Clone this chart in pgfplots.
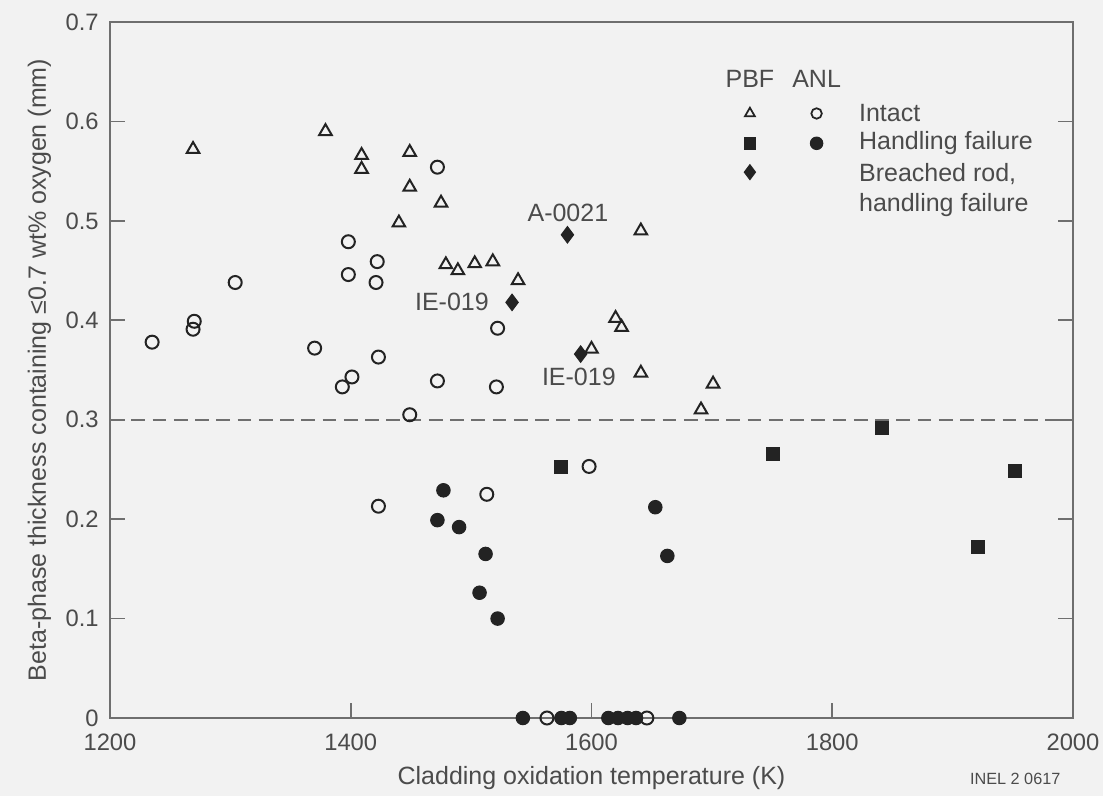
\documentclass[border=0pt]{standalone}
\usepackage{fontspec}
\setmainfont{Liberation Sans}
\usepackage{pgfplots}
\pgfplotsset{compat=1.18}
\definecolor{ink}{RGB}{75,75,75}
\definecolor{markk}{RGB}{35,35,35}

\begin{document}
\begin{tikzpicture}
\path[use as bounding box,fill=black!5] (-44pt,-31pt) rectangle (397.2pt,287.2pt);
\begin{axis}[scale only axis,width=385.2pt,height=278.4pt,at={(0,0)},anchor=south west,
  xmin=1200,xmax=2000,ymin=0,ymax=0.7,clip=false,
  xtick={1200,1400,...,2000},ytick={0,0.1,...,0.7},
  yticklabels={0,0.1,0.2,0.3,0.4,0.5,0.6,0.7},
  xticklabel style={/pgf/number format/1000 sep={},yshift=-3pt},
  yticklabel style={xshift=-1pt},
  /pgf/number format/assume math mode=true,
  tick label style={font=\fontsize{9.5}{11}\selectfont,text=ink},
  label style={font=\fontsize{10}{12}\selectfont,text=ink},
  axis line style={ink!80,line width=0.7pt},
  major tick length=6pt,tick style={ink!80,line width=0.7pt},
  tick align=inside,xtick pos=bottom,ytick pos=both,
  xlabel={Cladding oxidation temperature (K)},
  ylabel={Beta-phase thickness containing ≤0.7 wt\% oxygen (mm)},
  xlabel style={at={(axis description cs:0.5,0)},anchor=north,yshift=-16pt},
  ylabel style={at={(axis description cs:0,0.5)},anchor=south,yshift=20pt},
  ]
% dashed limit
\addplot[ink!80,line width=0.8pt,dash pattern=on 5.5pt off 3pt] coordinates {(1200,0.3)(2000,0.3)};
% PBF intact
\addplot[only marks,mark=triangle,mark size=2.9pt,markk,line width=0.8pt] coordinates {
 (1269,0.572)(1379,0.590)(1409,0.566)(1409,0.552)(1449,0.569)(1449,0.534)(1475,0.518)(1440,0.498)
 (1479,0.456)(1489,0.450)(1503,0.457)(1518,0.459)(1539,0.440)(1641,0.490)(1620,0.402)(1625,0.393)
 (1600,0.371)(1641,0.347)(1701,0.336)(1691,0.310)};
% ANL intact
\addplot[only marks,mark=o,mark size=2.6pt,markk,line width=0.8pt] coordinates {
 (1472,0.554)(1398,0.479)(1422,0.459)(1398,0.446)(1421,0.438)(1304,0.438)(1270,0.399)(1269,0.391)
 (1235,0.378)(1370,0.372)(1423,0.363)(1401,0.343)(1393,0.333)(1472,0.339)(1521,0.333)(1522,0.392)
 (1449,0.305)(1423,0.213)(1513,0.225)(1598,0.253)(1563,0)(1646,0)};
% ANL handling failure
\addplot[only marks,mark=*,mark size=2.7pt,markk] coordinates {
 (1477,0.229)(1472,0.199)(1490,0.192)(1512,0.165)(1507,0.126)(1522,0.100)(1653,0.212)(1663,0.163)
 (1543,0)(1575,0)(1582,0)(1614,0)(1622,0)(1630,0)(1637,0)(1673,0)};
% PBF handling failure
\addplot[only marks,mark=square*,mark size=2.6pt,markk] coordinates {
 (1575,0.252)(1751,0.266)(1841,0.292)(1952,0.248)(1921,0.172)};
% PBF breached rod
\addplot[only marks,mark=diamond*,mark size=3.3pt,markk] coordinates {
 (1580,0.486)(1534,0.418)(1591,0.366)};
% legend symbols
\addplot[only marks,mark=triangle,mark size=2.3pt,markk,line width=0.7pt] coordinates {(1731.6,0.608)};
\addplot[only marks,mark=o,mark size=2.1pt,markk,line width=0.7pt] coordinates {(1787,0.608)};
\addplot[only marks,mark=square*,mark size=2.3pt,markk] coordinates {(1731.6,0.578)};
\addplot[only marks,mark=*,mark size=2.5pt,markk] coordinates {(1787,0.578)};
\addplot[only marks,mark=diamond*,mark size=3pt,markk] coordinates {(1731.6,0.549)};
\begin{scope}[every node/.style={font=\fontsize{10}{12}\selectfont,text=ink}]
\node at (axis cs:1731.6,0.643) {PBF};
\node at (axis cs:1787,0.643) {ANL};
\node[anchor=west] at (axis cs:1815,0.608) {Intact};
\node[anchor=west] at (axis cs:1815,0.578) {Handling failure};
\node[anchor=west,align=left] at (axis cs:1815,0.531) {Breached rod,\\handling failure};
\node at (axis cs:1580.4,0.508) {A-0021};
\node[anchor=east] at (axis cs:1522,0.419) {IE-019};
\node at (axis cs:1589.5,0.343) {IE-019};
\end{scope}
\node[font=\fontsize{6.5}{8}\selectfont,text=ink] at (rel axis cs:0.94,-0.088) {INEL 2 0617};
\end{axis}
\end{tikzpicture}
\end{document}
